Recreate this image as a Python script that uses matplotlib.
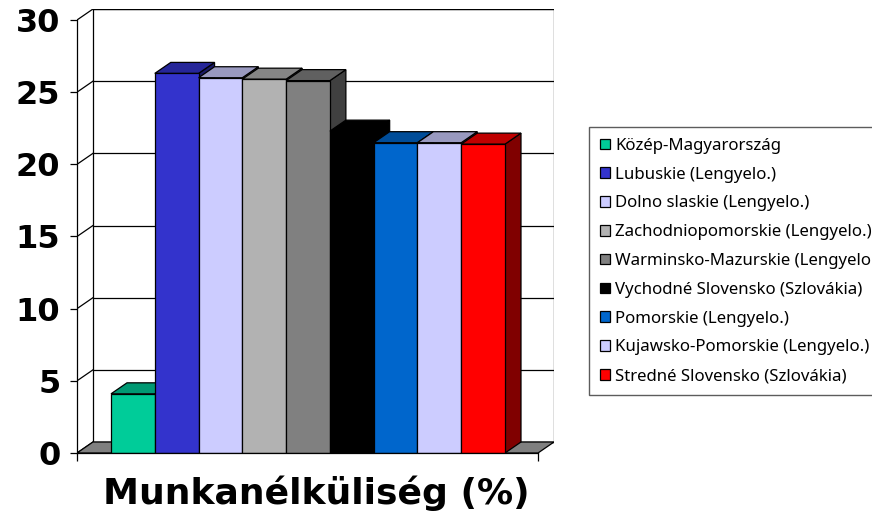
import matplotlib
matplotlib.use("Agg")
import matplotlib.pyplot as plt
from matplotlib.patches import Polygon, Patch
from matplotlib.colors import to_rgb

regions = ["Közép-Magyarország", "Lubuskie (Lengyelo.)", "Dolno slaskie (Lengyelo.)",
           "Zachodniopomorskie (Lengyelo.)", "Warminsko-Mazurskie (Lengyelo.)",
           "Vychodné Slovensko (Szlovákia)", "Pomorskie (Lengyelo.)",
           "Kujawsko-Pomorskie (Lengyelo.)", "Stredné Slovensko (Szlovákia)"]
values = [4.1, 26.3, 26.0, 25.9, 25.8, 22.3, 21.5, 21.5, 21.4]
colors = ["#00CC99", "#3333CC", "#CCCCFF", "#B2B2B2", "#808080",
          "#000000", "#0066CC", "#CCCCFF", "#FF0000"]
yticks = [0, 5, 10, 15, 20, 25, 30]
xlabel = "Munkanélküliség (%)"

W, H = 872, 519
fig = plt.figure(figsize=(W / 100, H / 100), dpi=100)

# axes box in pixels: front axis at x=77, back wall right at x=554, y=0 at 453, top of back wall at 9
px_left, px_right, px_bottom, px_top = 77, 554, 453, 9
ax = fig.add_axes([px_left / W, 1 - px_bottom / H,
                   (px_right - px_left) / W, (px_bottom - px_top) / H])

bar_w = 1.0
dx = 0.365          # depth offset in x units
dy = 0.762          # depth offset in y units
x_front_left = -1.277
x_front_right = 9.254
ymax = yticks[-1]

ax.set_xlim(x_front_left, x_front_right + dx)
ax.set_ylim(0, ymax + dy)

edge = dict(edgecolor="black", linewidth=0.9)


def shade(c, f):
    r, g, b = to_rgb(c)
    return (r * f, g * f, b * f)


# back wall
ax.add_patch(Polygon([(x_front_left + dx, dy), (x_front_right + dx, dy),
                      (x_front_right + dx, ymax + dy), (x_front_left + dx, ymax + dy)],
                     closed=True, facecolor="white", **edge, zorder=1))
# gridlines on back wall + diagonal links to front axis
for t in yticks:
    ax.plot([x_front_left + dx, x_front_right + dx], [t + dy, t + dy],
            color="black", lw=0.9, zorder=1.5)
    ax.plot([x_front_left, x_front_left + dx], [t, t + dy],
            color="black", lw=0.9, zorder=1.5)
# floor
ax.add_patch(Polygon([(x_front_left, 0), (x_front_left + dx, dy),
                      (x_front_right + dx, dy), (x_front_right, 0)],
                     closed=True, facecolor="#808080", **edge, zorder=2))

# bars: side, top, then front face
xs = list(range(len(values)))
for i, (x, v, c) in enumerate(zip(xs, values, colors)):
    z = 3 + i
    l, r = x - bar_w / 2, x + bar_w / 2
    ax.add_patch(Polygon([(r, 0), (r + dx, dy), (r + dx, v + dy), (r, v)],
                         closed=True, facecolor=shade(c, 0.5), **edge, zorder=z))
    ax.add_patch(Polygon([(l, v), (l + dx, v + dy), (r + dx, v + dy), (r, v)],
                         closed=True, facecolor=shade(c, 0.75), **edge, zorder=z))
    ax.bar(x, v, width=bar_w, color=c, zorder=z, **edge)

# axes styling
for s in ["top", "right"]:
    ax.spines[s].set_visible(False)
ax.spines["left"].set_bounds(0, ymax)
ax.spines["bottom"].set_bounds(x_front_left, x_front_right)
for s in ["left", "bottom"]:
    ax.spines[s].set_linewidth(0.9)
    ax.spines[s].set_zorder(20)
ax.set_yticks(yticks)
ax.set_yticklabels([str(t) for t in yticks], fontsize=23, fontweight="heavy",
                   family="DejaVu Sans")
ax.tick_params(axis="y", length=5, width=0.9, pad=7)
ax.set_xticks([x_front_left, x_front_right])
ax.set_xticklabels(["", ""])
ax.tick_params(axis="x", length=6, width=0.9)
ax.patch.set_visible(False)

fig.text(316 / W, 1 - 504 / H, xlabel, ha="center", va="baseline",
         fontsize=26, fontweight="heavy", family="DejaVu Sans")

handles = [Patch(facecolor=c, edgecolor="black", linewidth=0.9) for c in colors]
leg = fig.legend(handles, regions, loc="upper left",
                 bbox_to_anchor=(589 / W, 1 - 127 / H), bbox_transform=fig.transFigure,
                 borderaxespad=0, fancybox=False, frameon=True,
                 prop={"family": "Noto Sans", "size": 12.1},
                 handlelength=0.6, handleheight=0.6, handletextpad=0.32,
                 labelspacing=0.76, borderpad=0.65)
leg.get_frame().set_edgecolor("#333333")
leg.get_frame().set_linewidth(1.0)

fig.savefig("out.png", dpi=100)
